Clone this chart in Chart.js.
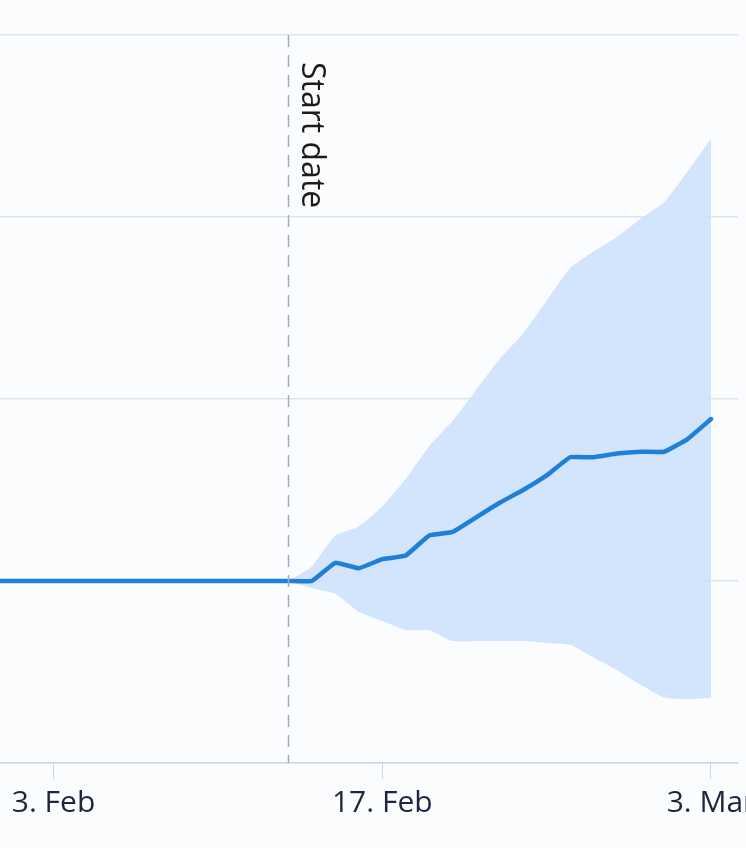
<!DOCTYPE html>
<html>
<head>
<meta charset="utf-8">
<script src="https://cdn.jsdelivr.net/npm/chart.js@4"></script>
<style>
  html, body { margin: 0; padding: 0; background: #fbfcfe; overflow: hidden; }
  #wrap { width: 800px; height: 848px; }
</style>
</head>
<body>
<div id="wrap"><canvas id="chart"></canvas></div>
<script>
// day numbers: 1 Feb = 1, 28 Feb = 28, 1 Mar = 29 ...
const lineDays = [0, 1, 2, 3, 4, 5, 6, 7, 8, 9, 10, 11, 12, 13, 14, 15, 16, 17, 18, 19, 20, 21, 22, 23, 24, 25, 26, 27, 28, 29, 30, 31];
const lineValues = [1, 1, 1, 1, 1, 1, 1, 1, 1, 1, 1, 1, 1, 1, 1, 1.10, 1.07, 1.12, 1.14, 1.25, 1.27, 1.35, 1.43, 1.50, 1.58, 1.68, 1.68, 1.70, 1.71, 1.71, 1.78, 1.89];

const bandDays = [13, 14, 15, 16, 17, 18, 19, 20, 21, 22, 23, 24, 25, 26, 27, 28, 29, 30, 31];
const upperValues = [1, 1.08, 1.25, 1.30, 1.41, 1.56, 1.74, 1.88, 2.05, 2.22, 2.36, 2.54, 2.72, 2.81, 2.89, 2.99, 3.08, 3.25, 3.43];
const lowerValues = [1, 0.96, 0.93, 0.83, 0.78, 0.73, 0.73, 0.67, 0.67, 0.67, 0.67, 0.66, 0.65, 0.58, 0.51, 0.43, 0.36, 0.35, 0.36];

const tickDays = [3, 17, 31];
const tickLabels = ['3. Feb', '17. Feb', '3. Mar'];
const startDay = 13;
const startLabel = 'Start date';

const toPoints = (xs, ys) => xs.map((x, i) => ({ x: x, y: ys[i] }));

// dashed "Start date" marker
const startLine = {
  id: 'startLine',
  afterDatasetsDraw(chart) {
    const ctx = chart.ctx;
    const area = chart.chartArea;
    const x = Math.round(chart.scales.x.getPixelForValue(startDay)) + 0.5;
    ctx.save();
    ctx.strokeStyle = '#a3abbb';
    ctx.lineWidth = 1.5;
    ctx.setLineDash([12, 8]);
    ctx.beginPath();
    ctx.moveTo(x, area.top);
    ctx.lineTo(x, area.bottom);
    ctx.stroke();
    ctx.setLineDash([]);
    ctx.translate(x + 13, area.top + 27);
    ctx.rotate(Math.PI / 2);
    ctx.fillStyle = '#1c1c1c';
    ctx.font = '32px "Open Sans"';
    ctx.textBaseline = 'alphabetic';
    ctx.fillText(startLabel, 0, 0);
    ctx.restore();
  }
};

new Chart(document.getElementById('chart'), {
  type: 'line',
  data: {
    datasets: [
      {
        label: 'Value',
        data: toPoints(lineDays, lineValues),
        borderColor: '#1f80da',
        borderWidth: 4.5,
        pointRadius: 0,
        fill: false,
        tension: 0.1,
        borderJoinStyle: 'round',
        borderCapStyle: 'round',
        order: 0
      },
      {
        label: 'Upper',
        data: toPoints(bandDays, upperValues),
        borderWidth: 0,
        pointRadius: 0,
        backgroundColor: 'rgba(205, 226, 252, 0.9)',
        fill: '+1',
        tension: 0.15,
        order: 1
      },
      {
        label: 'Lower',
        data: toPoints(bandDays, lowerValues),
        borderWidth: 0,
        pointRadius: 0,
        fill: false,
        tension: 0.15,
        order: 2
      }
    ]
  },
  options: {
    responsive: true,
    maintainAspectRatio: false,
    animation: false,
    layout: { padding: { top: 35, right: 62, left: 0, bottom: 21 } },
    plugins: {
      legend: { display: false },
      tooltip: { enabled: false }
    },
    scales: {
      x: {
        type: 'linear',
        min: 0.72,
        max: 32.15,
        afterBuildTicks: (scale) => {
          scale.ticks = tickDays.map(v => ({ value: v }));
        },
        ticks: {
          autoSkip: false,
          maxRotation: 0,
          padding: 6,
          color: '#1f2440',
          font: { family: '"Open Sans"', size: 30 },
          callback: (value) => tickLabels[tickDays.indexOf(value)]
        },
        grid: {
          drawOnChartArea: false,
          drawTicks: true,
          tickLength: 16,
          color: '#ccd6eb'
        },
        border: { color: '#ccd6eb', width: 1.5 }
      },
      y: {
        min: 0,
        max: 4,
        ticks: { display: false, stepSize: 1 },
        grid: { color: '#dfe5ef', drawTicks: false, lineWidth: 1.5 },
        border: { display: false }
      }
    }
  },
  plugins: [startLine]
});
</script>
</body>
</html>
